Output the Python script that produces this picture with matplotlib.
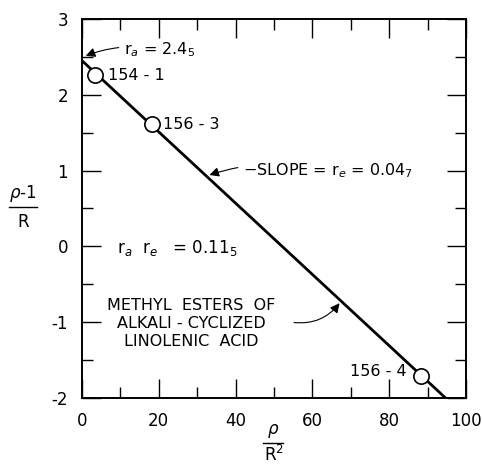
import matplotlib
matplotlib.use("Agg")
import matplotlib.pyplot as plt
import numpy as np

# Data
ra = 2.45
re = 0.047
point_labels = ["154 - 1", "156 - 3", "156 - 4"]
point_x = [3.4, 18.2, 88.2]
point_y = [2.26, 1.61, -1.71]
line_x = [0.0, 94.7]
xticks = [0, 20, 40, 60, 80, 100]
yticks = [-2, -1, 0, 1, 2, 3]

plt.rcParams['font.family'] = ['DejaVu Sans']
fig = plt.figure(figsize=(4.82, 4.65), dpi=100)
ax = fig.add_axes([82/482, 1-398/465, (466-82)/482, (398-19)/465])

line_y = [ra - re * x for x in line_x]
ax.plot(line_x, line_y, color='black', lw=2.0, zorder=2)
ax.plot(point_x, point_y, 'o', ms=11, mfc='white', mec='black', mew=1.2, zorder=3)

offs = [(9, 0), (8, 0), (-10, 3)]
has = ['left', 'left', 'right']
for lab, x, y, (dx, dy), ha in zip(point_labels, point_x, point_y, offs, has):
    ax.annotate(lab, (x, y), xytext=(dx, dy), textcoords='offset points',
                ha=ha, va='center', fontsize=11.5)

ax.set_xlim(0, 100)
ax.set_ylim(-2, 3)
ax.set_xticks(xticks)
ax.set_yticks(yticks)
ax.set_xticklabels([str(t) for t in xticks], fontsize=12)
ax.set_yticklabels([str(t) for t in yticks], fontsize=12)
ax.set_xticks(np.arange(0, 101, 10), minor=True)
ax.set_yticks(np.arange(-2, 3.01, 0.5), minor=True)
ax.tick_params(which='both', direction='in', top=True, right=True, width=1.0)
ax.tick_params(which='major', length=14, pad=10)
ax.tick_params(which='minor', length=8)
for s in ax.spines.values():
    s.set_linewidth(1.4)

arrowprops = dict(arrowstyle='-|>', color='black', lw=0.8, mutation_scale=14,
                  connectionstyle='arc3,rad=0.15')
ax.annotate(r'r$_a$ = 2.4$_5$', xy=(0.3, 2.5), xytext=(11, 2.6),
            fontsize=11.5, va='center', ha='left', arrowprops=arrowprops)
ax.annotate(r'$-$SLOPE = r$_e$ = 0.04$_7$', xy=(32.5, 0.93), xytext=(42, 1.0),
            fontsize=11.5, va='center', ha='left', arrowprops=arrowprops)
ax.text(9, -0.02, r'r$_a$  r$_e$   = 0.11$_5$', fontsize=12, va='center', ha='left')
ax.text(28.5, -1.02, 'METHYL  ESTERS  OF\nALKALI - CYCLIZED\nLINOLENIC  ACID', fontsize=11.5,
        va='center', ha='center', linespacing=1.25)
ax.annotate('', xy=(67.5, -0.72), xytext=(54.5, -1.0),
            arrowprops=dict(arrowstyle='-|>', color='black', lw=0.8, mutation_scale=14,
                            connectionstyle='arc3,rad=0.3'))

fig.text(23/482, 1-193/465, r'$\rho$-1', fontsize=12, ha='center', va='center')
fig.add_artist(plt.Line2D([9/482, 37/482], [1-207/465, 1-207/465], color='black', lw=1.0))
fig.text(23/482, 1-222/465, 'R', fontsize=12, ha='center', va='center')

fig.text(273/482, 1-431/465, r'$\rho$', fontsize=12, ha='center', va='center')
fig.add_artist(plt.Line2D([263/482, 283/482], [1-443/465, 1-443/465], color='black', lw=1.0))
fig.text(274/482, 1-455/465, r'R$^2$', fontsize=12, ha='center', va='center')

fig.savefig('out.png', dpi=100)
